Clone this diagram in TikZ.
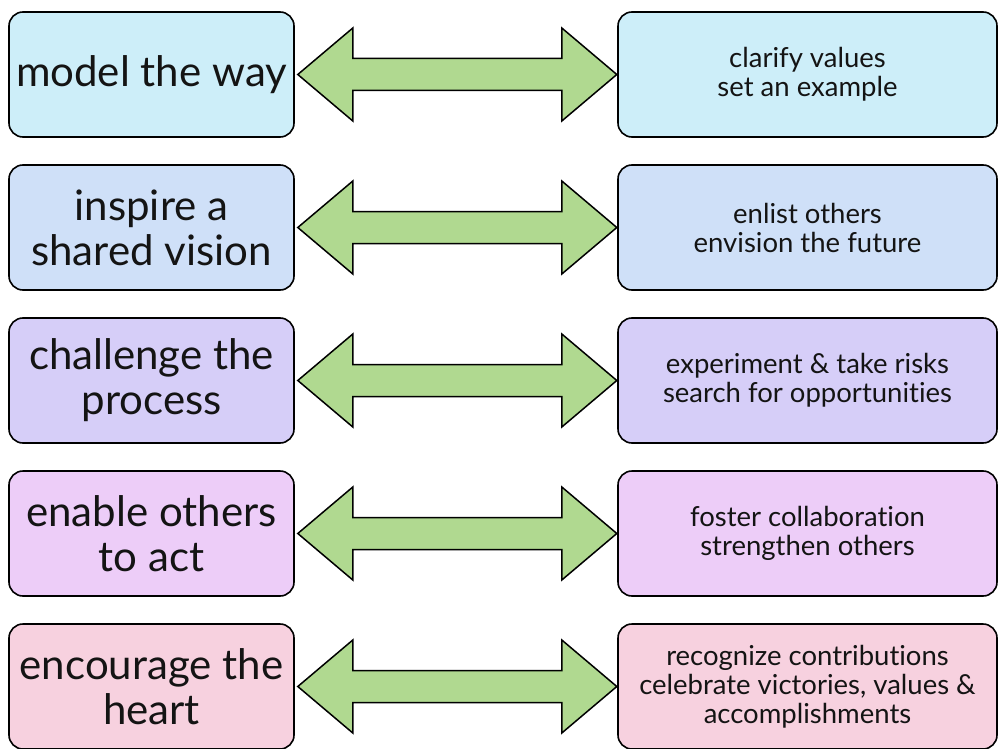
\documentclass[tikz,border=0pt]{standalone}
\usepackage{fontspec}
\setmainfont{Lato}[Ligatures={NoCommon}]
\usetikzlibrary{calc}
\definecolor{rowA}{HTML}{CDEEF9}
\definecolor{rowB}{HTML}{CFE0F8}
\definecolor{rowC}{HTML}{D6CEF8}
\definecolor{rowD}{HTML}{EDCDF8}
\definecolor{rowE}{HTML}{F7D1DF}
\definecolor{arrowgreen}{HTML}{B0D990}
\definecolor{textdark}{HTML}{141414}
\tikzset{
  box/.style={draw=black, line width=1.6pt, rounded corners=14pt, align=center, inner sep=0pt, text=textdark},
  leftbox/.style={box, minimum width=285pt, minimum height=125pt, font=\fontsize{42}{45}\selectfont},
  rightbox/.style={box, minimum width=379pt, minimum height=125pt, font=\fontsize{27.5}{29}\selectfont},
  dblarrow/.style={draw=black, line width=1.5pt, fill=arrowgreen, line join=miter},
}
\begin{document}
\begin{tikzpicture}[x=1pt,y=-1pt]
\useasboundingbox (0,0) rectangle (998,749);
\fill[white] (0,0) rectangle (998,749);
\node[leftbox, fill=rowA] (L1) at (151.5,74.5) {model the way};
\node[rightbox, fill=rowA] (R1) at (807.5,74.5) {clarify values\\set an example};
\node[leftbox, fill=rowB] (L2) at (151.5,227.5) {inspire a\\shared vision};
\node[rightbox, fill=rowB] (R2) at (807.5,227.5) {enlist others\\envision the future};
\node[leftbox, fill=rowC] (L3) at (151.5,380.5) {challenge the\\process};
\node[rightbox, fill=rowC] (R3) at (807.5,380.5) {experiment \& take risks\\search for opportunities};
\node[leftbox, fill=rowD] (L4) at (151.5,533.5) {enable others\\to act};
\node[rightbox, fill=rowD] (R4) at (807.5,533.5) {foster collaboration\\strengthen others};
\node[leftbox, fill=rowE] (L5) at (151.5,686.5) {encourage the\\heart};
\node[rightbox, fill=rowE] (R5) at (807.5,686.5) {recognize contributions\\celebrate victories, values \&\\accomplishments};
\foreach \i in {1,...,5}{
  \draw[dblarrow] ($(L\i.east)+(3,0)$) -- ++(55,-46.5) -- ++(0,30.5) -- ++(209,0) -- ++(0,-30.5) -- ++(55,46.5) -- ++(-55,46.5) -- ++(0,-30.5) -- ++(-209,0) -- ++(0,30.5) -- cycle;
}
\end{tikzpicture}
\end{document}
